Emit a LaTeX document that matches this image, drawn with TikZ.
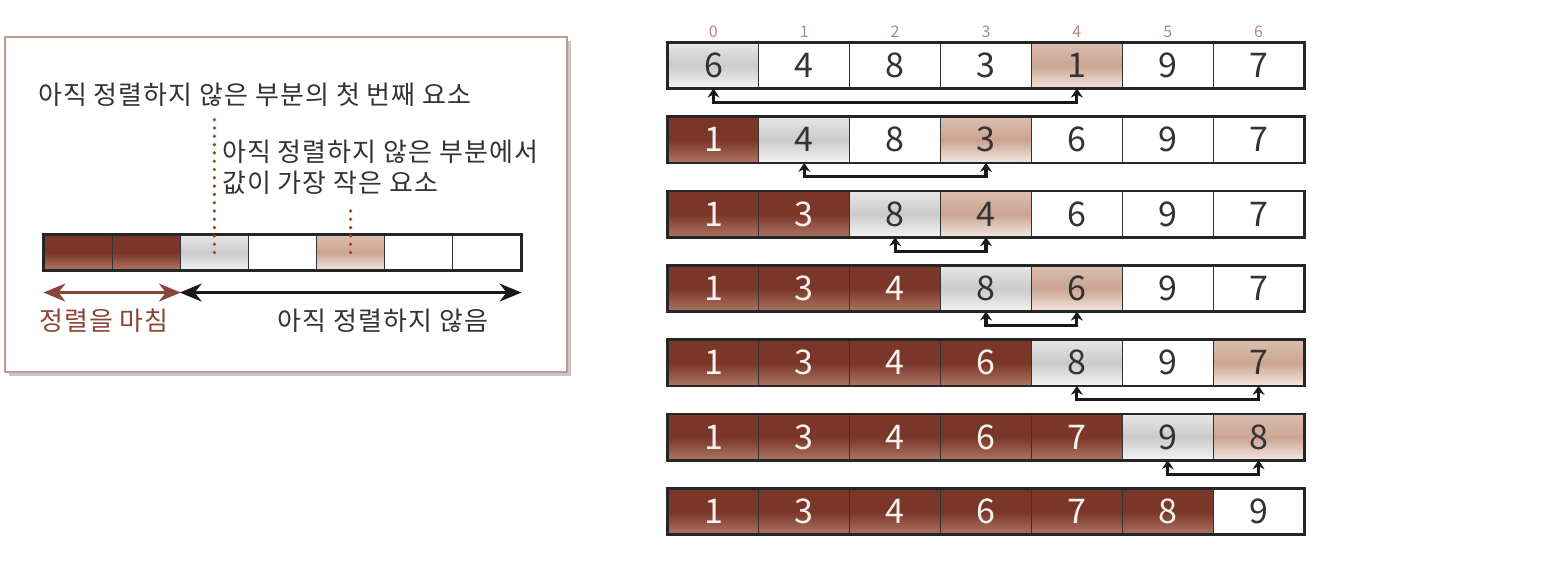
\documentclass[tikz,border=0pt]{standalone}
\usepackage{fontspec}
\setmainfont{Noto Sans CJK KR}
\newfontfamily\krsp[LetterSpace=4]{Noto Sans CJK KR}
\usetikzlibrary{arrows.meta}
\definecolor{brD}{HTML}{7A3628}
\definecolor{brL}{HTML}{AC7464}
\definecolor{gyT}{HTML}{E6E6E6}
\definecolor{gyM}{HTML}{CACACA}
\definecolor{gyB}{HTML}{F4F4F4}
\definecolor{pkT}{HTML}{DBBEAF}
\definecolor{pkM}{HTML}{CBA491}
\definecolor{pkB}{HTML}{F3E6DF}
\definecolor{ink}{HTML}{333333}
\definecolor{idxc}{HTML}{B48878}
\definecolor{boxc}{HTML}{C39A92}
\definecolor{dotc}{HTML}{9A3E30}
\definecolor{labbr}{HTML}{8B4536}
\tikzset{
  cell/.style={minimum width=90.857pt, minimum height=45pt, inner sep=0pt, draw=ink, line width=1.1pt, font=\fontsize{34}{34}\selectfont},
  lcell/.style={minimum width=68.143pt, minimum height=35pt, inner sep=0pt, draw=ink, line width=1.1pt},
  sD/.style={top color=brD, bottom color=brL, middle color=brD, text=white!90!brL},
  sG/.style={top color=gyT, bottom color=gyB, middle color=gyM, text=ink},
  sP/.style={top color=pkT, bottom color=pkB, middle color=pkM, text=ink},
  sW/.style={fill=white, text=ink},
  outerb/.style={draw=black!85, line width=2.6pt},
  swaparr/.style={draw=black!90, line width=3.2pt, {Stealth[length=9pt,width=12pt,inset=3pt]}-{Stealth[length=9pt,width=12pt,inset=3pt]}},
  idx/.style={text=idxc, font=\fontsize{16}{16}\selectfont, inner sep=0pt},
  lab/.style={text=ink, font=\krsp\fontsize{26}{28}\selectfont, inner sep=2pt},
  dotl/.style={draw=dotc, line width=3.6pt, line cap=round, dash pattern=on 0pt off 8.3pt},
  bigarr/.style={line width=2.2pt, {Stealth[length=22pt,width=18pt,inset=7pt]}-{Stealth[length=22pt,width=18pt,inset=7pt]}},
}
\newcommand\mycell[4]{\node[cell,#4] (r#1c#2) at ({668+90.857*(#2+0.5)},{65.5+74.333*#1}) {#3};}
\newcommand\swap[3]{\draw[swaparr] (r#1c#2.south) -- ++(0,14) -| (r#1c#3.south);}
\newcommand\rowborder[1]{\draw[outerb] (r#1c0.north west) rectangle (r#1c6.south east);}
\begin{document}
\begin{tikzpicture}[x=1pt,y=-1pt]
\useasboundingbox (0,0) rectangle (1546,561);
\fill[white] (0,0) rectangle (1546,561);
% ---------- legend box ----------
\fill[black!22] (9,41) rectangle (571,376);
\draw[boxc, line width=1.6pt, fill=white] (5,37) rectangle (567,372);
\foreach \j/\s in {0/D,1/D,2/G,3/W,4/P,5/W,6/W}{
  \node[lcell, s\s] (l\j) at ({44+68.143*(\j+0.5)},252.5) {};
}
\draw[outerb] (l0.north west) rectangle (l6.south east);
\node[lab, anchor=base west] (t1) at (36,105) {아직 정렬하지 않은 부분의 첫 번째 요소};
\node[lab, anchor=base west] (t2a) at (220,162) {아직 정렬하지 않은 부분에서};
\node[lab, anchor=base west] (t2b) at (220,193) {값이 가장 작은 요소};
\draw[dotl] (l2.center) -- ([yshift=-10pt]l2 |- t1.south);
\draw[dotl] (l4.center) -- ([yshift=-8pt]l4 |- t2b.south);
\draw[draw=labbr, bigarr] ([yshift=-22pt]l0.south west) -- ([yshift=-22pt]l1.south east);
\draw[draw=black!90, bigarr] ([yshift=-22pt]l2.south west) -- ([yshift=-22pt]l6.south east);
\node[lab, text=labbr] (d1) at (104,321) {정렬을 마침};
\node[lab] (d2) at (383,321) {아직 정렬하지 않음};
% ---------- main array ----------
\foreach \j in {0,...,6}{ \node[idx] (i\j) at ({668+90.857*(\j+0.5)},32) {\j}; }
% row 0
\mycell{0}{0}{6}{sG}\mycell{0}{1}{4}{sW}\mycell{0}{2}{8}{sW}\mycell{0}{3}{3}{sW}\mycell{0}{4}{1}{sP}\mycell{0}{5}{9}{sW}\mycell{0}{6}{7}{sW}
% row 1
\mycell{1}{0}{1}{sD}\mycell{1}{1}{4}{sG}\mycell{1}{2}{8}{sW}\mycell{1}{3}{3}{sP}\mycell{1}{4}{6}{sW}\mycell{1}{5}{9}{sW}\mycell{1}{6}{7}{sW}
% row 2
\mycell{2}{0}{1}{sD}\mycell{2}{1}{3}{sD}\mycell{2}{2}{8}{sG}\mycell{2}{3}{4}{sP}\mycell{2}{4}{6}{sW}\mycell{2}{5}{9}{sW}\mycell{2}{6}{7}{sW}
% row 3
\mycell{3}{0}{1}{sD}\mycell{3}{1}{3}{sD}\mycell{3}{2}{4}{sD}\mycell{3}{3}{8}{sG}\mycell{3}{4}{6}{sP}\mycell{3}{5}{9}{sW}\mycell{3}{6}{7}{sW}
% row 4
\mycell{4}{0}{1}{sD}\mycell{4}{1}{3}{sD}\mycell{4}{2}{4}{sD}\mycell{4}{3}{6}{sD}\mycell{4}{4}{8}{sG}\mycell{4}{5}{9}{sW}\mycell{4}{6}{7}{sP}
% row 5
\mycell{5}{0}{1}{sD}\mycell{5}{1}{3}{sD}\mycell{5}{2}{4}{sD}\mycell{5}{3}{6}{sD}\mycell{5}{4}{7}{sD}\mycell{5}{5}{9}{sG}\mycell{5}{6}{8}{sP}
% row 6
\mycell{6}{0}{1}{sD}\mycell{6}{1}{3}{sD}\mycell{6}{2}{4}{sD}\mycell{6}{3}{6}{sD}\mycell{6}{4}{7}{sD}\mycell{6}{5}{8}{sD}\mycell{6}{6}{9}{sW}
\foreach \r in {0,...,6}{ \rowborder{\r} }
\swap{0}{0}{4}
\swap{1}{1}{3}
\swap{2}{2}{3}
\swap{3}{3}{4}
\swap{4}{4}{6}
\swap{5}{5}{6}
\end{tikzpicture}
\end{document}
